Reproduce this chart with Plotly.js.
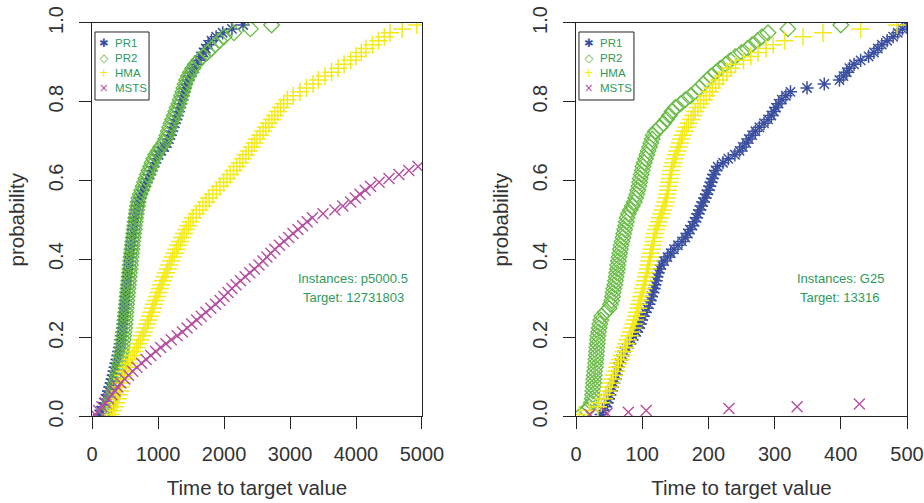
<!DOCTYPE html>
<html>
<head>
<meta charset="utf-8">
<script src="https://cdn.plot.ly/plotly-3.0.1.min.js"></script>
<style>html,body{margin:0;padding:0;background:#fff;}#chart{width:924px;height:503px;}</style>
</head>
<body>
<div id="chart"></div>
<script>
// Shared cumulative probability levels (empirical TTT plot)
const probLevels = [0.005,0.015,0.025,0.035,0.045,0.055,0.065,0.075,0.085,0.095,
0.105,0.115,0.125,0.135,0.145,0.155,0.165,0.175,0.185,0.195,
0.205,0.215,0.225,0.235,0.245,0.255,0.265,0.275,0.285,0.295,
0.305,0.315,0.325,0.335,0.345,0.355,0.365,0.375,0.385,0.395,
0.405,0.415,0.425,0.435,0.445,0.455,0.465,0.475,0.485,0.495,
0.505,0.515,0.525,0.535,0.545,0.555,0.565,0.575,0.585,0.595,
0.605,0.615,0.625,0.635,0.645,0.655,0.665,0.675,0.685,0.695,
0.705,0.715,0.725,0.735,0.745,0.755,0.765,0.775,0.785,0.795,
0.805,0.815,0.825,0.835,0.845,0.855,0.865,0.875,0.885,0.895,
0.905,0.915,0.925,0.935,0.945,0.955,0.965,0.975,0.985,0.995];

const seriesNames = ["PR1","PR2","HMA","MSTS"];

// Left panel: instance p5000.5, target 12731803
const leftPR1 = [110,140,165,190,210,230,250,270,290,305,322,336,350,364,378,392,404,416,428,436,
444,452,460,468,476,483,489,495,501,507,513,520,527,534,541,548,554,560,566,572,
578,585,592,599,606,614,622,630,638,646,655,665,677,688,702,720,745,770,795,822,
848,872,898,922,948,975,1010,1050,1095,1135,1160,1185,1205,1225,1250,1270,1290,1310,1328,1345,
1362,1378,1395,1412,1430,1455,1485,1515,1550,1580,1615,1650,1690,1725,1760,1810,1880,1980,2120,2290];
const leftPR2 = [170,205,240,270,292,310,328,344,358,372,388,400,412,423,434,444,452,460,467,474,
481,487,493,498,503,508,513,518,523,528,533,539,545,551,557,563,568,574,580,585,
591,597,604,610,617,624,631,639,646,654,662,670,679,688,697,710,730,752,774,795,
816,838,862,885,908,935,965,1000,1040,1085,1115,1135,1155,1175,1198,1220,1245,1268,1290,1315,
1335,1355,1375,1392,1410,1432,1460,1490,1525,1565,1615,1680,1750,1810,1870,1930,2000,2150,2400,2720];
const leftHMA = [280,315,345,370,390,408,422,436,448,460,475,500,530,555,585,615,645,675,702,730,
758,785,810,835,858,880,900,920,940,960,982,1005,1028,1050,1073,1097,1122,1148,1172,1197,
1222,1250,1278,1305,1335,1365,1395,1428,1460,1492,1530,1580,1630,1680,1728,1775,1830,1885,1940,1995,
2045,2095,2145,2195,2240,2285,2330,2375,2420,2460,2500,2545,2590,2635,2680,2725,2770,2815,2860,2905,
2960,3050,3150,3250,3350,3430,3530,3630,3730,3820,3920,4000,4080,4150,4250,4340,4430,4515,4700,4920];
const leftMSTS = [50,100,150,200,250,300,350,390,435,495,555,615,680,750,820,890,965,1040,1120,1200,
1290,1370,1440,1510,1585,1655,1725,1800,1870,1940,2000,2060,2120,2180,2250,2320,2390,2460,2530,2590,
2650,2710,2770,2840,2910,2980,3045,3120,3190,3260,3340,3500,3680,3800,3920,3990,4060,4140,4220,4350,
4500,4650,4800,4940];

// Right panel: instance G25, target 13316
const rightPR1 = [38,41,44,47,49,51,53,55,57,59,61,63,64,66,68,71,73,76,80,84,
87,91,94,97,99,101,104,107,110,112,114,116,118,119,121,122,124,126,129,133,
138,143,148,154,160,165,169,172,176,179,182,184,187,189,192,195,197,200,202,204,
206,208,211,214,222,230,240,247,252,257,261,266,271,277,284,290,295,299,302,306,
311,317,324,349,375,398,404,409,413,420,430,442,450,456,462,470,479,486,493,499];
const rightPR2 = [8,16,20,23,24.5,25,25.5,26,26.5,27,27.5,28,29,29.5,30,30.5,31,31.5,32,32.5,
33,34,35,36,37.5,39,44,50,52,54,55,56,57,58.5,59.5,60.5,61.5,62.5,63,64,
65,66,67,68,69.5,71,72,73.5,75,76,77,79,82,85,88,90,92,93.5,95,96,
97,98.5,100,101,103,105,107,109,111,113,115,116.5,120,127,132,137,141,145,150,158,
165,173,180,186,192,198,204,211,218,226,233,241,250,259,266,274,281,290,320,400];
const rightHMA = [5,20,33,38,42,45,48,51,53,55,57,60,62,64,67,69,72,74,76,78,
81,83,85,87,89,91,92,94,95,97,98.5,100,101.5,103,104.5,106,107,108.5,110,111,
112,113,114.5,116,117,118,119,121,123,125,127,129,131,133,135,137,138,139,140,141,
142,143,144,145,147,149,151,153,155,157,159,161,164,167,170,174,177,180,184,188,
193,197,202,206,211,216,222,228,234,241,253,264,275,287,298,315,343,373,430,485];
const rightMSTS = [21,47,79,106,231,334,428];
const rightMSTSProb = [0.005,0.008,0.011,0.015,0.02,0.025,0.032];

const colors = {PR1:"#3B4FA0", PR2:"#68BC45", HMA:"#F2EA1B", MSTS:"#B54FA0"};
const textGreen = "#2E9A5B";
const symbols = {PR1:"asterisk-open", PR2:"diamond-open", HMA:"cross-thin-open", MSTS:"x-thin-open"};
const sizes = {PR1:11, PR2:12, HMA:13, MSTS:11};
const widths = {PR1:1.5, PR2:1.3, HMA:1.5, MSTS:1.4};

function mk(name, t, p, xa, ya){
  return {type:"scatter", mode:"markers", name:name, x:t, y:p, xaxis:xa, yaxis:ya,
    showlegend:false, hoverinfo:"x+y+name",
    marker:{symbol:symbols[name], size:sizes[name], color:colors[name],
      line:{color:colors[name], width:widths[name]}}};
}

const traces = [
  mk("PR1", leftPR1, probLevels.slice(0,leftPR1.length), "x", "y"),
  mk("PR2", leftPR2, probLevels.slice(0,leftPR2.length), "x", "y"),
  mk("HMA", leftHMA, probLevels.slice(0,leftHMA.length), "x", "y"),
  mk("MSTS", leftMSTS, probLevels.slice(0,leftMSTS.length), "x", "y"),
  mk("PR1", rightPR1, probLevels.slice(0,rightPR1.length), "x2", "y2"),
  mk("PR2", rightPR2, probLevels.slice(0,rightPR2.length), "x2", "y2"),
  mk("HMA", rightHMA, probLevels.slice(0,rightHMA.length), "x2", "y2"),
  mk("MSTS", rightMSTS, rightMSTSProb, "x2", "y2")
];

const FONT = "Liberation Sans, Arial, Helvetica, sans-serif";
const axisCommon = {showline:true, mirror:true, linecolor:"#222", linewidth:1,
  ticks:"outside", ticklen:12, tickwidth:1, tickcolor:"#222",
  showgrid:false, zeroline:false, automargin:false,
  tickfont:{family:FONT, size:20, color:"#333"}};

function xAxis(domain, range, tickvals, anchor){
  return Object.assign({}, axisCommon, {domain:domain, range:range, tickvals:tickvals,
    anchor:anchor, ticklabelstandoff:8,
    title:{text:"Time to target value", font:{family:FONT, size:20.5, color:"#333"}, standoff:16}});
}
function yAxis(anchor){
  return Object.assign({}, axisCommon, {domain:[0.172,0.9543], range:[0,1],
    tickvals:[0,0.2,0.4,0.6,0.8,1.0], tickformat:".1f", tickangle:-90,
    anchor:anchor, ticklabelstandoff:8,
    title:{text:"probability", font:{family:FONT, size:20.5, color:"#333"}, standoff:14}});
}

// manual R-style boxed legends: a glyph column and a label column
const glyph = {PR1:"✱", PR2:"◇", HMA:"+", MSTS:"×"};
function legend(boxX0, boxX1, symX, txtX){
  const centerY = 0.8688;
  const glyphText = seriesNames.map(n =>
    "<span style='color:" + colors[n] + "'>" + glyph[n] + "</span>").join("<br>");
  const labelText = seriesNames.join("<br>");
  const ann = [
    {xref:"paper", yref:"paper", x:symX, y:centerY, text:glyphText, showarrow:false, borderpad:0,
      xanchor:"center", yanchor:"middle", align:"center",
      font:{family:"DejaVu Sans", size:11.5, color:colors.PR1}},
    {xref:"paper", yref:"paper", x:txtX, y:centerY, text:labelText, showarrow:false, borderpad:0,
      xanchor:"left", yanchor:"middle", align:"left",
      font:{family:FONT, size:11.5, color:textGreen}}
  ];
  const shape = {type:"rect", xref:"paper", yref:"paper", x0:boxX0, x1:boxX1, y0:0.8012, y1:0.9364,
    line:{color:"#222", width:1}, fillcolor:"rgba(0,0,0,0)"};
  return {ann:ann, shape:shape};
}
const L1 = legend(0.1028, 0.1613, 0.1126, 0.1234);
const L2 = legend(0.6266, 0.6861, 0.6374, 0.6483);

const infoFont = {family:FONT, size:13, color:textGreen};
const annotations = [].concat(L1.ann, L2.ann, [
  {xref:"x", yref:"y", x:3955, y:0.351, text:"Instances: p5000.5", showarrow:false, font:infoFont},
  {xref:"x", yref:"y", x:3955, y:0.303, text:"Target: 12731803", showarrow:false, font:infoFont},
  {xref:"x2", yref:"y2", x:399, y:0.351, text:"Instances: G25", showarrow:false, font:infoFont},
  {xref:"x2", yref:"y2", x:399, y:0.303, text:"Target: 13316", showarrow:false, font:infoFont}
]);

const layout = {
  width:924, height:503, paper_bgcolor:"#fff", plot_bgcolor:"#fff",
  margin:{l:0, r:0, t:0, b:0}, showlegend:false,
  font:{family:FONT, color:"#333"},
  xaxis: xAxis([0.0996,0.4567],[0,5000],[0,1000,2000,3000,4000,5000],"y"),
  yaxis: yAxis("x"),
  xaxis2: xAxis([0.6234,0.9816],[0,500],[0,100,200,300,400,500],"y2"),
  yaxis2: yAxis("x2"),
  shapes:[L1.shape, L2.shape],
  annotations: annotations
};

Plotly.newPlot("chart", traces, layout, {displayModeBar:false});
</script>
</body>
</html>
